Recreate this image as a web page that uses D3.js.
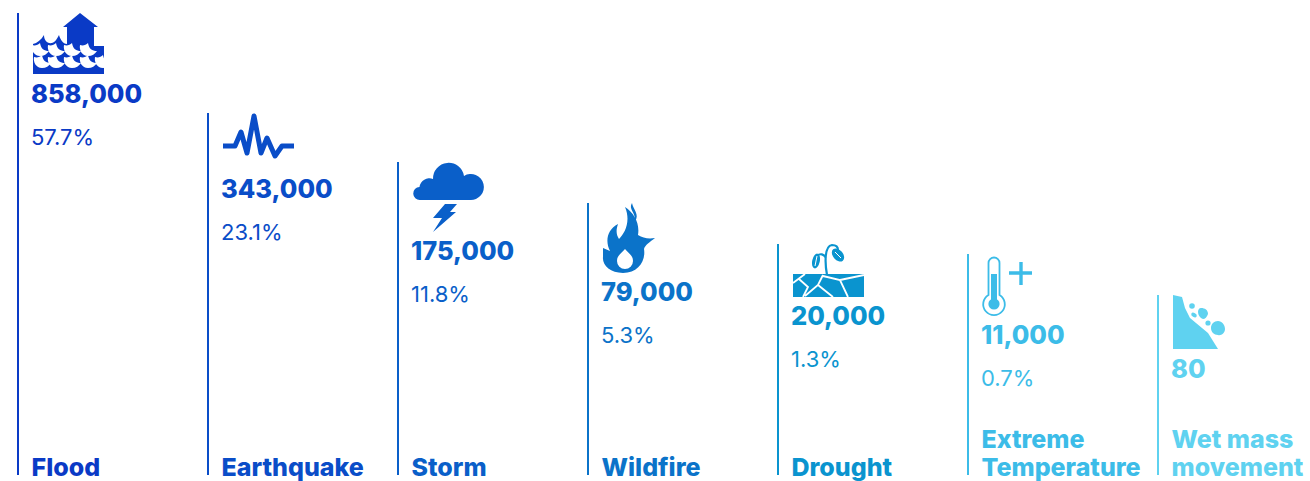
<!DOCTYPE html>
<html>
<head>
<meta charset="utf-8">
<script src="https://cdn.jsdelivr.net/npm/d3@7"></script>
<style>
html, body { margin: 0; padding: 0; background: #fff; overflow: hidden; }
text { font-family: Inter, "Open Sans", sans-serif; }
</style>
</head>
<body>
<div id="chart"></div>
<script>
const categories = ['Flood', 'Earthquake', 'Storm', 'Wildfire', 'Drought', 'Extreme Temperature', 'Wet mass movement'];
const values = [858000, 343000, 175000, 79000, 20000, 11000, 80];
const shares = [57.7, 23.1, 11.8, 5.3, 1.3, 0.7, null];
const colors = ['#0a3ac6', '#0a4dc8', '#0a5fc9', '#0b73c9', '#0a94cf', '#3cbce8', '#5fd2f0'];
const labelLines = [['Flood'], ['Earthquake'], ['Storm'], ['Wildfire'], ['Drought'], ['Extreme', 'Temperature'], ['Wet mass', 'movement']];

const width = 1310, height = 481, baseY = 475;

const x = d3.scalePoint().domain(categories).range([18, 1158]);
// the source spaces its stems by rank rather than by true size, so the scale is piecewise
const stem = d3.scaleLinear()
    .domain([80, 11000, 20000, 79000, 175000, 343000, 858000])
    .range([180, 221, 231, 272, 313, 362, 462]);
// gap from the top of the stem to the number, it depends on the icon above it
const iconDrop = [90, 85, 98, 98, 81, 90, 83];

const svg = d3.select('#chart').append('svg')
    .attr('width', width)
    .attr('height', height);

// white swoop cut out of the flood waves
const swoop = (x0, y) => `M${x0},${y}c-1,5 2,11 8,11c4,0 7,-2 9,-5c-5,0 -8,-2 -9,-8c-2,2 -5,3 -8,2Z`;

// icons are drawn relative to the top of their stem
const icons = [
    (g, c) => {
        g.append('path').attr('fill', c).attr('d', 'M62,0L80,14L76,14L76,34L49,34L49,14L45,14Z');
        g.append('path').attr('fill', c)
            .attr('d', 'M15,34L15,31C19,30 23,27 26,22C26,27 29,31 34,30C37,29 39,26 41,22C42,26 45,31 49,31L49,34Z');
        g.append('rect').attr('x', 15).attr('y', 33).attr('width', 71).attr('height', 28).attr('fill', c);
        g.append('path').attr('fill', '#fff').attr('d', 'M76,27H78V33H76Z');
        [14, 30, 46, 62].forEach(p => {
            g.append('path').attr('fill', '#fff').attr('d', swoop(p, 32));
        });
        [16, 30, 46, 62, 77].forEach(p => {
            g.append('path').attr('fill', '#fff').attr('d', swoop(p, 44));
        });
    },
    (g, c) => {
        g.append('path').attr('fill', 'none').attr('stroke', c).attr('stroke-width', 5)
            .attr('stroke-linejoin', 'round')
            .attr('d', 'M15,33L27,33L33,19L39,40L46,3L53,40L59,25L67,43L74,33L86,33');
    },
    (g, c) => {
        g.append('path').attr('fill', c)
            .attr('d', 'M22,38A6.5,6.5 0 0 1 21.5,25A10,10 0 0 1 35,17A15.6,15.6 0 0 1 66,14A13,13 0 1 1 72,38Z');
        g.append('path').attr('fill', c)
            .attr('d', 'M47,42L59,42L52,50L58,50L35,70L44,56L35,56Z');
    },
    (g, c) => {
        g.append('path').attr('fill', c).attr('fill-rule', 'evenodd')
            .attr('d', 'M35,70C22,70 14,62 15,54C15,50 15,47 15,45L22,48C17,38 19,27 30,21C28,27 28,31 31,36C37,30 43,18 37,4C46,10 52,20 50,32C55,35 60,36 67,35C62,39 57,42 56,46C58,58 50,70 35,70Z' +
                'M37,46C34,50 29,52 29,58A8,8 0 0 0 45,58C45,52 40,50 37,46Z');
        g.append('path').attr('fill', c).attr('d', 'M44,0C40,6 48,10 47,18C52,12 45,6 44,0Z');
    },
    (g, c) => {
        g.append('rect').attr('x', 15).attr('y', 30).attr('width', 71).attr('height', 23).attr('fill', c);
        g.append('path').attr('fill', 'none').attr('stroke', '#fff').attr('stroke-width', 1.8)
            .attr('d', 'M15,39L27,30M21,35L30,43L25,53M45,31L40,41L27,52M40,41L55,53M45,32L62,36L70,53M62,36L86,31');
        g.append('path').attr('fill', 'none').attr('stroke', c).attr('stroke-width', 2.2)
            .attr('d', 'M49,31C47,20 46,2 54,1C58,1 60,3 60,6M48,14C46,10 42,9 39,12');
        g.append('ellipse').attr('cx', 60).attr('cy', 11).attr('rx', 5).attr('ry', 7.5)
            .attr('transform', 'rotate(-40,60,11)').attr('fill', c);
        g.append('path').attr('stroke', '#fff').attr('stroke-width', 1).attr('d', 'M57,8L63,14');
        g.append('ellipse').attr('cx', 38).attr('cy', 17).attr('rx', 3.8).attr('ry', 7.5)
            .attr('transform', 'rotate(12,38,17)').attr('fill', c);
        g.append('path').attr('stroke', '#fff').attr('stroke-width', 1).attr('d', 'M39,12L37,22');
    },
    (g, c) => {
        g.append('path').attr('fill', 'none').attr('stroke', c).attr('stroke-width', 1.8)
            .attr('d', 'M20.5,41V9A5.5,5.5 0 0 1 31.5,9V41A10.8,10.8 0 1 1 20.5,41Z');
        g.append('rect').attr('x', 23).attr('y', 20).attr('width', 6).attr('height', 28).attr('fill', c);
        g.append('circle').attr('cx', 26).attr('cy', 50).attr('r', 5.6).attr('fill', c);
        g.append('path').attr('fill', 'none').attr('stroke', c).attr('stroke-width', 3.4)
            .attr('d', 'M41,19H64M53,8V31');
    },
    (g, c) => {
        g.append('path').attr('fill', c)
            .attr('d', 'M15,0L24,2L27,13L32,23L50,38L60,54L15,54Z');
        g.append('path').attr('fill', c)
            .attr('d', 'M60,26C64,26 67,30 67,34C67,38 63,41 60,40C56,40 53,37 53,33C53,29 56,26 60,26Z M43,13C47,13 50,15 50,19C49,22 47,24 45,24C42,23 40,20 40,17C40,15 41,13 43,13Z');
        g.append('circle').attr('cx', 34).attr('cy', 11).attr('r', 2.8).attr('fill', c);
        g.append('ellipse').attr('cx', 36).attr('cy', 20).attr('rx', 3).attr('ry', 2)
            .attr('transform', 'rotate(30,36,20)').attr('fill', c);
        g.append('circle').attr('cx', 50).attr('cy', 28).attr('r', 2.6).attr('fill', c);
    }
];

const groups = svg.selectAll('g.item')
    .data(categories)
    .enter()
    .append('g')
    .attr('class', 'item')
    .attr('transform', (d, i) => `translate(${x(d)},${baseY - stem(values[i])})`);

groups.append('line')
    .attr('x1', 0)
    .attr('x2', 0)
    .attr('y1', 0)
    .attr('y2', (d, i) => stem(values[i]))
    .attr('stroke', (d, i) => colors[i])
    .attr('stroke-width', 2);

groups.each(function (d, i) {
    icons[i](d3.select(this), colors[i]);
});

groups.append('text')
    .attr('x', 13)
    .attr('y', (d, i) => iconDrop[i])
    .attr('fill', (d, i) => colors[i])
    .attr('font-size', 25.5)
    .attr('font-weight', 800)
    .text((d, i) => d3.format(',')(values[i]));

groups.append('text')
    .attr('x', 13)
    .attr('y', (d, i) => iconDrop[i] + 41.7)
    .attr('fill', (d, i) => colors[i])
    .attr('font-size', 22)
    .attr('font-weight', 400)
    .text((d, i) => shares[i] === null ? '' : shares[i] + '%');

// category names sit on the base line, two line names grow upward
groups.each(function (d, i) {
    const lines = labelLines[i];
    d3.select(this).selectAll('text.label')
        .data(lines)
        .enter()
        .append('text')
        .attr('class', 'label')
        .attr('x', 13.5)
        .attr('y', (l, j) => stem(values[i]) + 1 - (lines.length - 1 - j) * 28)
        .attr('fill', colors[i])
        .attr('font-size', 25)
        .attr('font-weight', 800)
        .text(l => l);
});
</script>
</body>
</html>
